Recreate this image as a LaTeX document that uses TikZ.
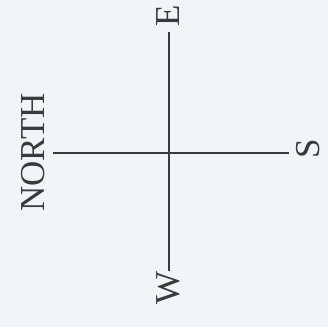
\documentclass[tikz,border=0pt]{standalone}
\usepackage{fontspec}
\setmainfont{Liberation Serif}
\usepackage{tikz}
\usetikzlibrary{calc}
\definecolor{paper}{HTML}{F2F5F7}
\definecolor{ink}{HTML}{3A3A3A}
\tikzset{
  lbl/.style ={inner sep=0pt,rotate=90,text=ink,font=\fontsize{35}{40}\selectfont},
  axis/.style={draw=ink,line width=1.3pt},
}
\begin{document}
\begin{tikzpicture}[x=1pt,y=1pt]
\fill[paper] (0,0) rectangle (328,327);
\useasboundingbox (0,0) rectangle (328,327);
\coordinate (o) at (169,174);
\node[lbl] (north) at (33.5,174.5) {NORTH};
\node[lbl] (s) at (308.5,178.5) {S};
\node[lbl] (e) at (168.5,311) {E};
\node[lbl] (w) at (168.5,39.5) {W};
\draw[axis,shorten <=8pt,shorten >=8pt] (o -| north.south) -- (o -| s.north);
\draw[axis,shorten <=5pt] (o |- e.west) -- (o |- w.east);
\end{tikzpicture}
\end{document}
